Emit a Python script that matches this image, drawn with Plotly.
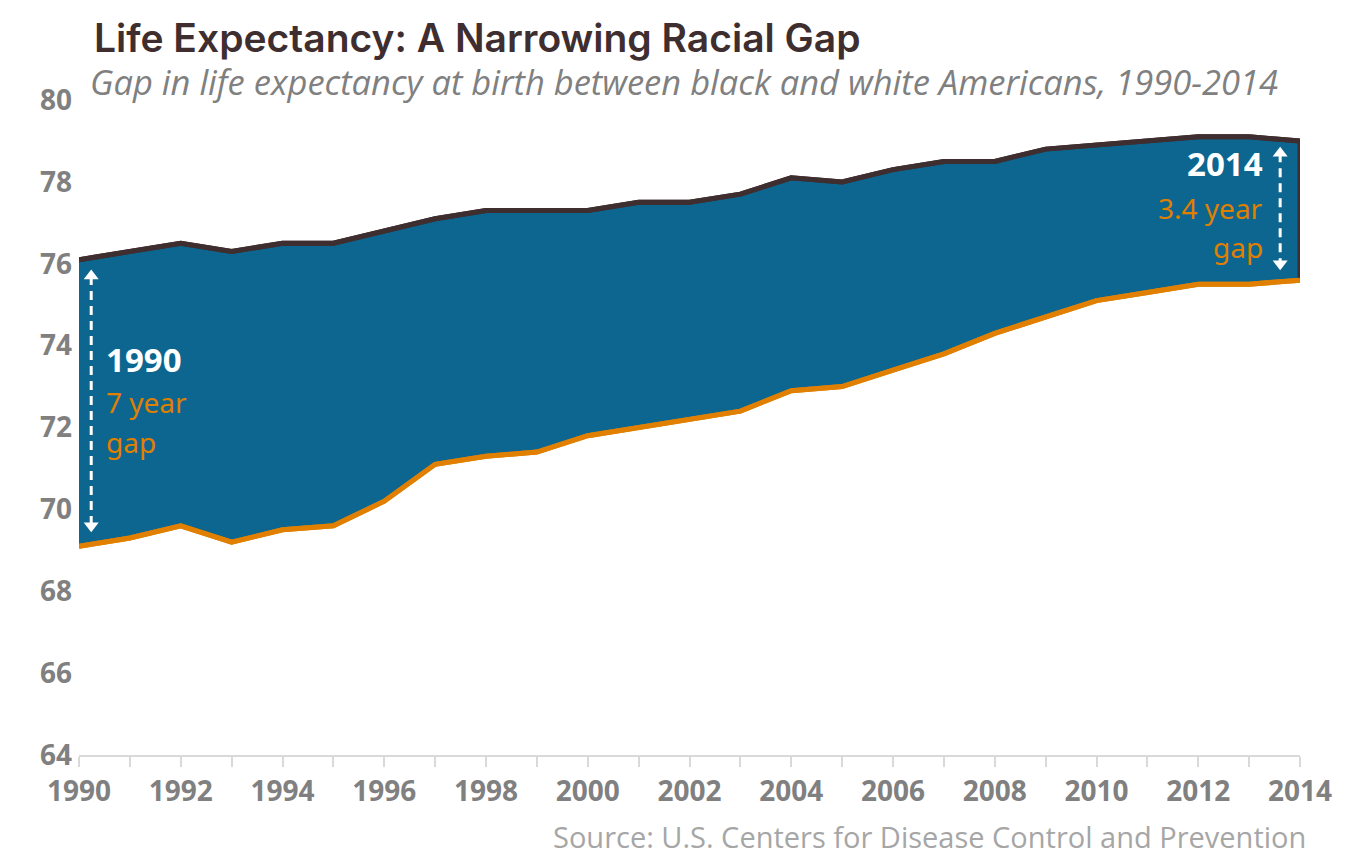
import plotly.graph_objects as go

years = list(range(1990, 2015))
white = [76.1, 76.3, 76.5, 76.3, 76.5, 76.5, 76.8, 77.1, 77.3, 77.3, 77.3, 77.5, 77.5,
         77.7, 78.1, 78.0, 78.3, 78.5, 78.5, 78.8, 78.9, 79.0, 79.1, 79.1, 79.0]
black = [69.1, 69.3, 69.6, 69.2, 69.5, 69.6, 70.2, 71.1, 71.3, 71.4, 71.8, 72.0, 72.2,
         72.4, 72.9, 73.0, 73.4, 73.8, 74.3, 74.7, 75.1, 75.3, 75.5, 75.5, 75.6]
x_ticks = list(range(1990, 2015, 2))
y_ticks = list(range(64, 81, 2))

BLUE = "#0c668f"
DARK = "#3f2e2f"
ORANGE = "#e07f00"
GRAY = "#808080"

fig = go.Figure()
fig.add_trace(go.Scatter(x=years, y=black, mode="lines", line=dict(color=ORANGE, width=5),
                         hoverinfo="skip", showlegend=False))
fig.add_trace(go.Scatter(x=years, y=white, mode="lines", line=dict(color=DARK, width=5),
                         fill="tonexty", fillcolor=BLUE, hoverinfo="skip", showlegend=False))
fig.add_trace(go.Scatter(x=[years[-1], years[-1]], y=[black[-1], white[-1]], mode="lines",
                         line=dict(color=DARK, width=5), hoverinfo="skip", showlegend=False))
fig.add_trace(go.Scatter(x=years, y=black, mode="lines", line=dict(color=ORANGE, width=5),
                         hoverinfo="skip", showlegend=False))
fig.add_trace(go.Scatter(x=years, y=white, mode="lines", line=dict(color=DARK, width=5),
                         hoverinfo="skip", showlegend=False))


def darrow(x, ytop, ybot):
    fig.add_trace(go.Scatter(x=[x, x], y=[ytop, ybot], mode="lines",
                             line=dict(color="white", width=3, dash="9px,6px"),
                             hoverinfo="skip", showlegend=False))
    fig.add_trace(go.Scatter(x=[x, x], y=[ytop, ybot], mode="markers",
                             marker=dict(symbol=["triangle-up", "triangle-down"], size=13, color="white"),
                             hoverinfo="skip", showlegend=False))


darrow(1990.24, 75.7, 69.6)
darrow(2013.61, 78.7, 76.0)

font = "Noto Sans"
# page body has an 8px default margin; compensate so the plot area lands at 79..1300 x 100..755
fig.update_layout(
    width=1352, height=858,
    margin=dict(l=71, r=60, t=92, b=111),
    paper_bgcolor="white", plot_bgcolor="white",
    xaxis=dict(range=[1990, 2014], tickvals=x_ticks, ticktext=[str(v) for v in x_ticks],
               showgrid=False, zeroline=False, showline=True, linecolor="#d9d9d9", linewidth=2,
               ticks="outside", ticklen=10, tickcolor="#d9d9d9", tickwidth=2,
               minor=dict(dtick=1, ticks="outside", ticklen=10, tickcolor="#d9d9d9", tickwidth=2),
               tickfont=dict(family=font, size=28, color=GRAY, weight="bold")),
    yaxis=dict(range=[64, 80], tickvals=y_ticks, showgrid=False, zeroline=False, showline=False,
               ticks="", ticklabelstandoff=6,
               tickfont=dict(family=font, size=28, color=GRAY, weight="bold")),
    annotations=[
        dict(text="Life Expectancy: A Narrowing Racial Gap", xref="paper", yref="paper",
             x=(92 - 79) / 1221, y=1 + (100 - 37) / 655, xanchor="left", yanchor="middle",
             showarrow=False, font=dict(family="Inter", size=39, color=DARK, weight=600)),
        dict(text="<i>Gap in life expectancy at birth between black and white Americans, 1990-2014</i>",
             xref="paper", yref="paper", x=(88 - 79) / 1221, y=1 + (100 - 81) / 655,
             xanchor="left", yanchor="middle", showarrow=False,
             font=dict(family="Open Sans", size=34.5, color=GRAY)),
        dict(text="Source: U.S. Centers for Disease Control and Prevention", xref="paper", yref="paper",
             x=(1308 - 79) / 1221, y=-(836 - 755) / 655, xanchor="right", yanchor="middle",
             showarrow=False, font=dict(family="Open Sans", size=29, color="#a6a6a6")),
        dict(text="<b>1990</b>", x=1990.49, y=73.65, xanchor="left", yanchor="middle", showarrow=False,
             font=dict(family=font, size=33, color="white")),
        dict(text="7 year", x=1990.49, y=72.62, xanchor="left", yanchor="middle", showarrow=False,
             font=dict(family=font, size=28, color=ORANGE)),
        dict(text="gap", x=1990.49, y=71.65, xanchor="left", yanchor="middle", showarrow=False,
             font=dict(family=font, size=28, color=ORANGE)),
        dict(text="<b>2014</b>", x=2013.31, y=78.46, xanchor="right", yanchor="middle", showarrow=False,
             font=dict(family=font, size=33, color="white")),
        dict(text="3.4 year", x=2013.31, y=77.36, xanchor="right", yanchor="middle", showarrow=False,
             font=dict(family=font, size=28, color=ORANGE)),
        dict(text="gap", x=2013.31, y=76.41, xanchor="right", yanchor="middle", showarrow=False,
             font=dict(family=font, size=28, color=ORANGE)),
    ],
)

fig.write_html("out.html")
